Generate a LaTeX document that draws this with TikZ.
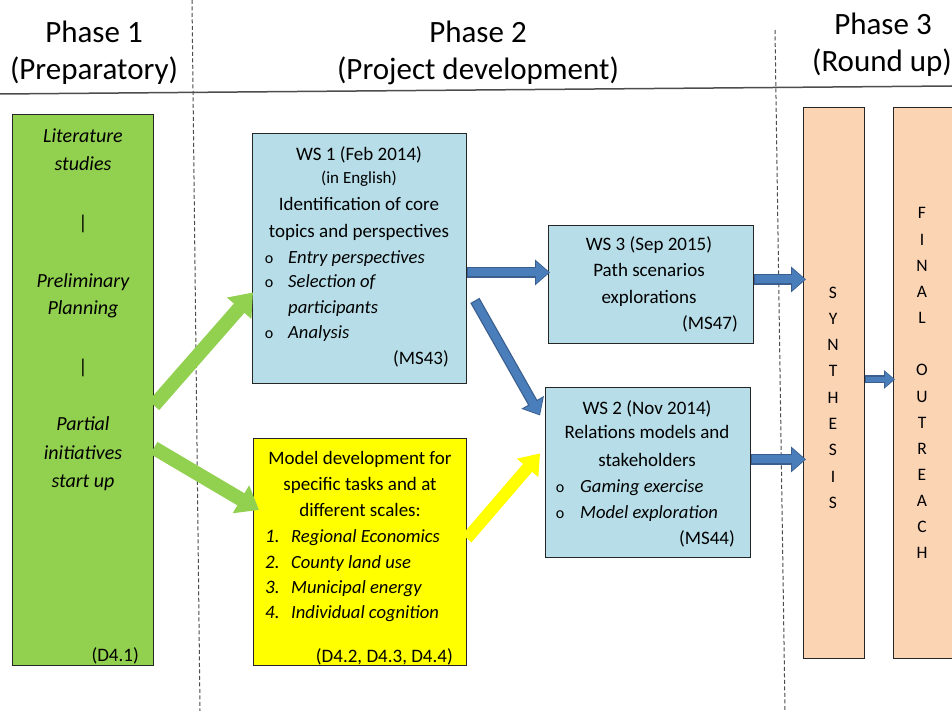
\documentclass[tikz,border=0pt]{standalone}
\usepackage{fontspec}
\setmainfont{Carlito}
\usetikzlibrary{arrows.meta,calc}
\definecolor{grn}{HTML}{92D050}
\definecolor{lblue}{HTML}{B7DEE8}
\definecolor{ylw}{HTML}{FFFF00}
\definecolor{peach}{HTML}{FBD4B4}
\definecolor{barrow}{HTML}{4A7EBB}
\definecolor{barrowdk}{HTML}{3A5F8F}
\definecolor{linegray}{HTML}{4D4D4D}
\begin{document}
\begin{tikzpicture}[x=1pt,y=-1pt,
  box/.style={draw=black!85, line width=0.9pt, inner sep=0pt, anchor=north west},
  hdr/.style={font=\fontsize{31}{36}\selectfont, inner sep=0pt, anchor=base},
  txt/.style={font=\fontsize{19}{24}\selectfont, inner sep=0pt, anchor=base},
  itx/.style={font=\fontsize{18.6}{24}\selectfont\itshape, inner sep=0pt, anchor=base west},
  gtx/.style={font=\fontsize{20}{24}\selectfont\itshape, inner sep=0pt, anchor=base},
  bul/.style={font=\fontsize{16}{16}\selectfont, inner sep=0pt, anchor=base},
  num/.style={font=\fontsize{19}{24}\selectfont\itshape, inner sep=0pt, anchor=base west},
  ref/.style={font=\fontsize{19}{24}\selectfont, inner sep=0pt, anchor=base east},
  letter/.style={font=\fontsize{17.5}{18}\selectfont, inner sep=0pt, anchor=base},
  phaseline/.style={draw=black!70, dash pattern=on 4pt off 2.5pt, line width=1pt},
  garr/.style={line width=14pt, grn, -{Triangle[width=31pt,length=21pt]}},
  yarr/.style={line width=12pt, ylw, -{Triangle[width=27pt,length=19pt]}},
  barr/.style={line width=10.5pt, barrowdk, -{Triangle[width=25pt,length=15pt]}},
  barrin/.style={line width=8pt, barrow, -{Triangle[width=21pt,length=12.6pt]}, shorten >=1.3pt, shorten <=1.2pt},
  sbarr/.style={line width=8pt, barrowdk, -{Triangle[width=18pt,length=11pt]}},
  sbarrin/.style={line width=5.6pt, barrow, -{Triangle[width=14.5pt,length=8.8pt]}, shorten >=1.2pt, shorten <=1.2pt}
]
\useasboundingbox (0,0) rectangle (952,711);
\fill[white] (0,0) rectangle (952,711);

% header rule and phase separators
\draw[linegray, line width=1.5pt] (0,94) -- (952,86);
\draw[phaseline] (192,0) -- (200,711);
\draw[phaseline] (775,30) -- (785,711);

% headers
\node[hdr] (h1a) at (94,43) {Phase 1};
\node[hdr] (h1b) at (94,80) {(Preparatory)};
\node[hdr] (h2a) at (478,43) {Phase 2};
\node[hdr] (h2b) at (478,80) {(Project development)};
\node[hdr] (h3a) at (883,35) {Phase 3};
\node[hdr] (h3b) at (882,72) {(Round up)};

% boxes
\node[box, fill=grn, minimum width=141, minimum height=551] (prep) at (12,114) {};
\node[box, fill=lblue, minimum width=214, minimum height=250] (ws1) at (252,133) {};
\node[box, fill=ylw, minimum width=213, minimum height=227] (model) at (253,438) {};
\node[box, fill=lblue, minimum width=205, minimum height=118] (ws3) at (548,225) {};
\node[box, fill=lblue, minimum width=205, minimum height=170] (ws2) at (545,387) {};
\node[box, fill=peach, minimum width=61, minimum height=551] (synth) at (803,107) {};
\node[box, fill=peach, minimum width=64, minimum height=551] (final) at (893,107) {};

% green box text
\node[gtx] (g1) at (83,143) {Literature};
\node[gtx] (g2) at (83,171) {studies};
\node[font=\fontsize{20}{24}\selectfont, inner sep=0pt] (g3) at (83,224) {|};
\node[gtx] (g4) at (83,287) {Preliminary};
\node[gtx] (g5) at (83,314) {Planning};
\node[font=\fontsize{20}{24}\selectfont, inner sep=0pt] (g6) at (83,368) {|};
\node[gtx] (g7) at (83,430) {Partial};
\node[gtx] (g8) at (83,459) {initiatives};
\node[gtx] (g9) at (83,487) {start up};
\node[ref] (g10) at (139,661) {(D4.1)};

% WS1 text
\node[txt] (a1) at (359,161) {WS 1 (Feb 2014)};
\node[txt, font=\fontsize{17}{20}\selectfont] (a2) at (359,184) {(in English)};
\node[txt] (a3) at (359,211) {Identification of core};
\node[txt] (a4) at (359,237) {topics and perspectives};
\node[bul] (a5) at (269,263) {o};
\node[itx] (a6) at (288,263) {Entry perspectives};
\node[bul] (a7) at (269,287) {o};
\node[itx] (a8) at (288,287) {Selection of};
\node[itx] (a9) at (288,313) {participants};
\node[bul] (a10) at (269,338) {o};
\node[itx] (a11) at (288,338) {Analysis};
\node[ref] (a12) at (449,364) {(MS43)};

% model text
\node[txt] (m1) at (360,464) {Model development for};
\node[txt] (m2) at (360,490) {specific tasks and at};
\node[txt] (m3) at (360,516) {different scales:};
\node[num] (m4) at (265,542) {1.};
\node[itx] (m5) at (291,542) {Regional Economics};
\node[num] (m6) at (265,568) {2.};
\node[itx] (m7) at (291,568) {County land use};
\node[num] (m8) at (265,593) {3.};
\node[itx] (m9) at (291,593) {Municipal energy};
\node[num] (m10) at (265,618) {4.};
\node[itx] (m11) at (291,618) {Individual cognition};
\node[ref] (m12) at (453,662) {(D4.2, D4.3, D4.4)};

% WS3 text
\node[txt] (c1) at (649,251) {WS 3 (Sep 2015)};
\node[txt] (c2) at (649,276) {Path scenarios};
\node[txt] (c3) at (649,303) {explorations};
\node[ref] (c4) at (738,329) {(MS47)};

% WS2 text
\node[txt] (b1) at (647,414) {WS 2 (Nov 2014)};
\node[txt] (b2) at (647,438) {Relations models and};
\node[txt] (b3) at (647,466) {stakeholders};
\node[bul] (b4) at (560,492) {o};
\node[itx] (b5) at (580,492) {Gaming exercise};
\node[bul] (b6) at (560,518) {o};
\node[itx] (b7) at (580,518) {Model exploration};
\node[ref] (b8) at (735,544) {(MS44)};

% vertical letters
\foreach \l [count=\i from 0] in {S,Y,N,T,H,E,S,I,S}
  \node[letter] (syn\i) at (833,{298+\i*26.3}) {\l};
\foreach \l [count=\i from 0] in {F,I,N,A,L}
  \node[letter] (fa\i) at (922,{219+\i*26.15}) {\l};
\foreach \l [count=\i from 6] in {O,U,T,R,E,A,C,H}
  \node[letter] (fb\i) at (922,{219+\i*26.15}) {\l};

% green and yellow arrows
\draw[garr] ($(prep.east)+(0,15.5)$) -- ($(ws1.west)+(1,34)$);
\draw[garr] ($(prep.east)+(0,58)$) -- ($(model.west)+(6,-42)$);
\draw[yarr] ($(model.east)+(0,-13.5)$) -- ($(ws2.west)+(-5,-19)$);

% blue arrows
\draw[barr] ($(ws1.east)+(0,14)$) -- ($(ws3.west)+(2,-12)$);
\draw[barrin] ($(ws1.east)+(0,14)$) -- ($(ws3.west)+(2,-12)$);
\draw[barr] ($(ws1.east)+(8,42)$) -- ($(ws2.west)+(-5,-57)$);
\draw[barrin] ($(ws1.east)+(8,42)$) -- ($(ws2.west)+(-5,-57)$);
\draw[barr] ($(ws3.east)+(0,-5)$) -- ($(synth.west)+(3,-103.5)$);
\draw[barrin] ($(ws3.east)+(0,-5)$) -- ($(synth.west)+(3,-103.5)$);
\draw[barr] ($(ws2.east)+(0,-13)$) -- ($(synth.west)+(3,76.5)$);
\draw[barrin] ($(ws2.east)+(0,-13)$) -- ($(synth.west)+(3,76.5)$);
\draw[sbarr] ($(synth.east)+(0,-3.5)$) -- ($(final.west)+(2,-3.5)$);
\draw[sbarrin] ($(synth.east)+(0,-3.5)$) -- ($(final.west)+(2,-3.5)$);
\end{tikzpicture}
\end{document}
